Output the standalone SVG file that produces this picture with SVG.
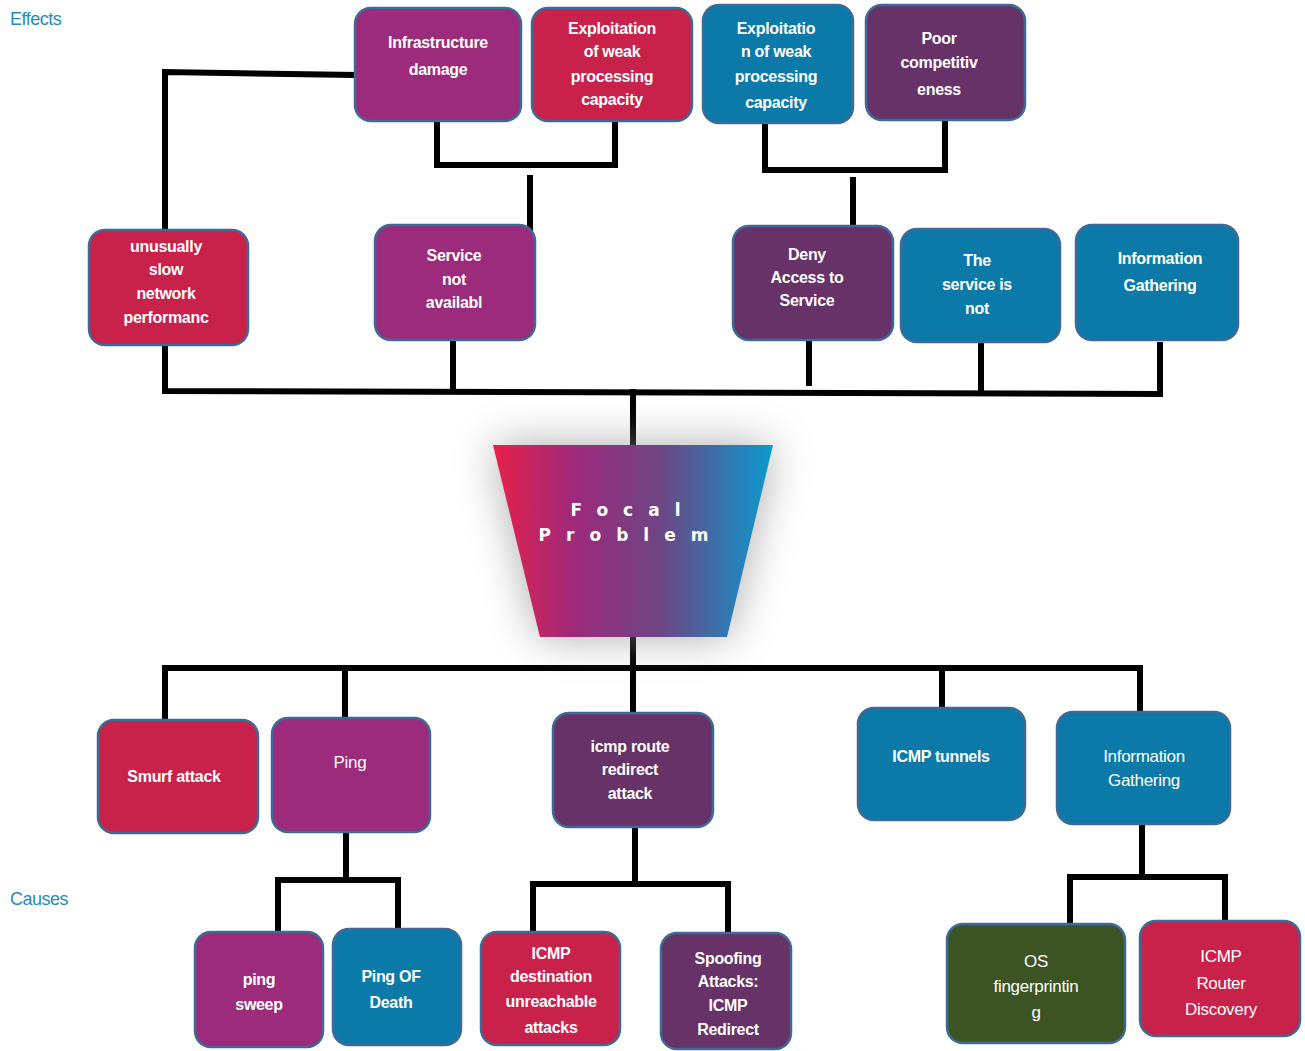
<svg xmlns="http://www.w3.org/2000/svg" width="1305" height="1051" viewBox="0 0 1305 1051">
<style>
.n{stroke:#3d6a96;stroke-width:2.5}
.red{fill:#c8224b}.mag{fill:#9c2b7b}.dp{fill:#663268}.blue{fill:#0b7aa8}.grn{fill:#3c5424}
.t{font-family:"Liberation Sans",Arial,sans-serif;font-size:16px;font-weight:bold;fill:#fff;text-anchor:middle;letter-spacing:-0.3px}
.r{font-weight:normal;font-size:17px}
.lbl{font-family:"Liberation Sans",Arial,sans-serif;font-size:18px;fill:#2a8ab8;letter-spacing:-0.5px}
.c{stroke:#000;stroke-width:6;fill:none;stroke-linecap:square}
.ft{font-family:"DejaVu Sans",sans-serif;font-size:17px;font-weight:bold;fill:#fff;text-anchor:middle;letter-spacing:15px}
</style>
<defs>
<linearGradient id="fg" x1="0" y1="0" x2="1" y2="0">
<stop offset="0" stop-color="#e8204a"/>
<stop offset="0.3" stop-color="#9c2a7c"/>
<stop offset="0.6" stop-color="#6c4684"/>
<stop offset="1" stop-color="#0a9ad0"/>
</linearGradient>
<filter id="sh" x="-40%" y="-40%" width="180%" height="180%">
<feGaussianBlur stdDeviation="22"/>
</filter>
</defs>
<rect width="1305" height="1051" fill="#fff"/>
<text class="lbl" x="10" y="25">Effects</text>
<text class="lbl" x="10" y="905">Causes</text>

<g id="connectors">
<polyline class="c" points="355,75 165,72 165,230"/>
<polyline class="c" points="437,121 437,165 615,165 615,121"/>
<line class="c" x1="530" y1="178" x2="530" y2="230"/>
<polyline class="c" points="765,123 765,170 945,170 945,120"/>
<line class="c" x1="853" y1="180" x2="853" y2="228"/>
<polyline class="c" points="165,345 165,391 1160,394 1160,345"/>
<line class="c" x1="453" y1="340" x2="453" y2="391"/>
<line class="c" x1="809" y1="340" x2="809" y2="383"/>
<line class="c" x1="981" y1="342" x2="981" y2="392"/>
<line class="c" x1="633" y1="392" x2="633" y2="445"/>
<line class="c" x1="633" y1="637" x2="633" y2="668"/>
<polyline class="c" points="165,720 165,668 1140,668 1140,712"/>
<line class="c" x1="345" y1="668" x2="345" y2="718"/>
<line class="c" x1="633" y1="668" x2="633" y2="713"/>
<line class="c" x1="942" y1="668" x2="942" y2="708"/>
<line class="c" x1="346" y1="832" x2="346" y2="880"/>
<polyline class="c" points="278,930 278,880 398,880 398,928"/>
<line class="c" x1="635" y1="827" x2="635" y2="880"/>
<polyline class="c" points="533,932 533,884 728,884 728,933"/>
<line class="c" x1="1142" y1="824" x2="1142" y2="877"/>
<polyline class="c" points="1070,922 1070,877 1225,877 1225,925"/>
</g>

<g id="focal">
<polygon points="493,445 773,445 727,637 540,637" fill="#888" filter="url(#sh)" opacity="0.7"/>
<polygon points="493,445 773,445 727,637 540,637" fill="url(#fg)"/>
<text class="ft" x="633" y="516">Focal</text>
<text class="ft" x="631" y="541">Problem</text>
</g>

<g id="e1"><rect class="n mag" x="355" y="8" width="166" height="113" rx="16"/>
<text class="t"><tspan x="438" y="48">Infrastructure</tspan><tspan x="438" y="75">damage</tspan></text></g>
<g id="e2"><rect class="n red" x="532" y="8" width="160" height="113" rx="16"/>
<text class="t"><tspan x="612" y="34">Exploitation</tspan><tspan x="612" y="57">of weak</tspan><tspan x="612" y="82">processing</tspan><tspan x="612" y="105">capacity</tspan></text></g>
<g id="e3"><rect class="n blue" x="703" y="5" width="150" height="118" rx="16"/>
<text class="t"><tspan x="776" y="34">Exploitatio</tspan><tspan x="776" y="57">n of weak</tspan><tspan x="776" y="82">processing</tspan><tspan x="776" y="108">capacity</tspan></text></g>
<g id="e4"><rect class="n dp" x="866" y="5" width="159" height="115" rx="16"/>
<text class="t"><tspan x="939" y="44">Poor</tspan><tspan x="939" y="68">competitiv</tspan><tspan x="939" y="95">eness</tspan></text></g>
<g id="e5"><rect class="n red" x="89" y="230" width="159" height="115" rx="16"/>
<text class="t"><tspan x="166" y="252">unusually</tspan><tspan x="166" y="275">slow</tspan><tspan x="166" y="299">network</tspan><tspan x="166" y="323">performanc</tspan></text></g>
<g id="e6"><rect class="n mag" x="375" y="225" width="160" height="115" rx="16"/>
<text class="t"><tspan x="454" y="261">Service</tspan><tspan x="454" y="285">not</tspan><tspan x="454" y="308">availabl</tspan></text></g>
<g id="e7"><rect class="n dp" x="733" y="226" width="160" height="114" rx="16"/>
<text class="t"><tspan x="807" y="260">Deny</tspan><tspan x="807" y="283">Access to</tspan><tspan x="807" y="306">Service</tspan></text></g>
<g id="e8"><rect class="n blue" x="901" y="229" width="159" height="113" rx="16"/>
<text class="t"><tspan x="977" y="266">The</tspan><tspan x="977" y="290">service is</tspan><tspan x="977" y="314">not</tspan></text></g>
<g id="e9"><rect class="n blue" x="1076" y="225" width="162" height="115" rx="16"/>
<text class="t"><tspan x="1160" y="264">Information</tspan><tspan x="1160" y="291">Gathering</tspan></text></g>

<g id="c1"><rect class="n red" x="98" y="720" width="160" height="113" rx="16"/>
<text class="t"><tspan x="174" y="782">Smurf attack</tspan></text></g>
<g id="c2"><rect class="n mag" x="272" y="718" width="158" height="114" rx="16"/>
<text class="t r"><tspan x="350" y="768">Ping</tspan></text></g>
<g id="c3"><rect class="n dp" x="553" y="713" width="160" height="114" rx="16"/>
<text class="t"><tspan x="630" y="752">icmp route</tspan><tspan x="630" y="775">redirect</tspan><tspan x="630" y="799">attack</tspan></text></g>
<g id="c4"><rect class="n blue" x="858" y="708" width="167" height="112" rx="16"/>
<text class="t"><tspan x="941" y="762">ICMP tunnels</tspan></text></g>
<g id="c5"><rect class="n blue" x="1057" y="712" width="173" height="112" rx="16"/>
<text class="t r"><tspan x="1144" y="762">Information</tspan><tspan x="1144" y="786">Gathering</tspan></text></g>
<g id="c6"><rect class="n mag" x="195" y="932" width="128" height="115" rx="16"/>
<text class="t"><tspan x="259" y="985">ping</tspan><tspan x="259" y="1010">sweep</tspan></text></g>
<g id="c7"><rect class="n blue" x="333" y="929" width="128" height="116" rx="16"/>
<text class="t"><tspan x="391" y="982">Ping OF</tspan><tspan x="391" y="1008">Death</tspan></text></g>
<g id="c8"><rect class="n red" x="481" y="932" width="139" height="113" rx="16"/>
<text class="t"><tspan x="551" y="959">ICMP</tspan><tspan x="551" y="982">destination</tspan><tspan x="551" y="1007">unreachable</tspan><tspan x="551" y="1033">attacks</tspan></text></g>
<g id="c9"><rect class="n dp" x="661" y="933" width="130" height="116" rx="16"/>
<text class="t"><tspan x="728" y="964">Spoofing</tspan><tspan x="728" y="987">Attacks:</tspan><tspan x="728" y="1011">ICMP</tspan><tspan x="728" y="1035">Redirect</tspan></text></g>
<g id="c10"><rect class="n grn" x="947" y="924" width="178" height="119" rx="16" stroke="#4a90c8"/>
<text class="t r"><tspan x="1036" y="967">OS</tspan><tspan x="1036" y="992">fingerprintin</tspan><tspan x="1036" y="1018">g</tspan></text></g>
<g id="c11"><rect class="n red" x="1140" y="921" width="160" height="115" rx="16"/>
<text class="t r"><tspan x="1221" y="962">ICMP</tspan><tspan x="1221" y="989">Router</tspan><tspan x="1221" y="1015">Discovery</tspan></text></g>
</svg>
